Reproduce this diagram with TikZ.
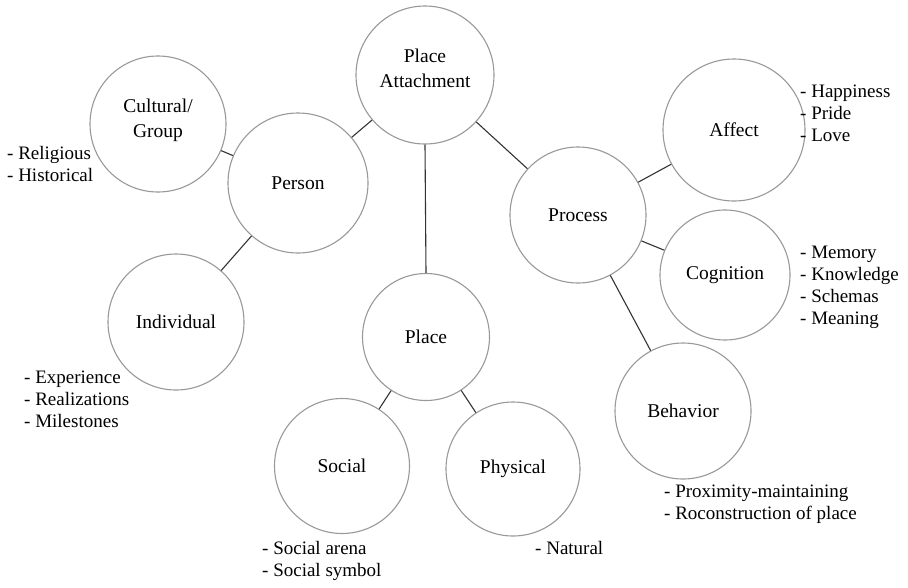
\documentclass[tikz,border=0pt]{standalone}
\usepackage{fontspec}
\setmainfont{Liberation Serif}
\newfontfamily\tnr{Liberation Serif}
\begin{document}
\begin{tikzpicture}[x=1pt,y=-1pt,
  bub/.style={circle,draw=black!40,line width=1.1pt,minimum size=#1,inner sep=0pt,align=center,font=\tnr\fontsize{19.5}{25}\selectfont},
  txt/.style={inner sep=0pt,align=center,font=\tnr\fontsize{19.5}{25}\selectfont},
  lnk/.style={draw=black!80,line width=1.1pt},
  lst/.style={anchor=north west,align=left,inner sep=0pt,font=\tnr\fontsize{19}{22}\selectfont}]
\useasboundingbox (0,0) rectangle (908,587);
\fill[white] (0,0) rectangle (908,587);
\node[bub=138pt] (pa) at (425,75) {};
\node[txt] (pat) at ([yshift=7pt]pa.center) {Place\\Attachment};
\node[bub=136pt] (cg) at (158,124) {};
\node[txt] (cgt) at ([yshift=4pt]cg.center) {Cultural/\\Group};
\node[bub=140pt] (pe) at (298,183) {Person};
\node[bub=136pt] (in) at (176,322) {Individual};
\node[bub=127pt] (pl) at (426,337) {Place};
\node[bub=135pt] (so) at (342,466) {Social};
\node[bub=134pt] (ph) at (513,469) {Physical};
\node[bub=136pt] (pr) at (578,215) {Process};
\node[bub=142pt] (af) at (734,130) {Affect};
\node[bub=130pt] (co) at (725,275) {Cognition};
\node[bub=136pt] (be) at (683,411) {Behavior};
\draw[lnk] (pa) -- (pe);
\draw[lnk] (pa.south) -- (pl.north);
\draw[lnk] (pa) -- (pr);
\draw[lnk] (cg) -- (pe);
\draw[lnk] (pe) -- (in);
\draw[lnk] (pl) -- (so);
\draw[lnk] (pl) -- (ph);
\draw[lnk] (pr) -- (af);
\draw[lnk] (pr) -- (co);
\draw[lnk] (pr) -- (be);
\node[lst] (l1) at (7,146) {- Religious\\- Historical};
\node[lst] (l2) at (800,85) {- Happiness\\- Pride\\- Love};
\node[lst] (l3) at (800,246) {- Memory\\- Knowledge\\- Schemas\\- Meaning};
\node[lst] (l4) at (24,371) {- Experience\\- Realizations\\- Milestones};
\node[lst] (l5) at (664,485) {- Proximity-maintaining\\- Roconstruction of place};
\node[lst] (l6) at (262,541) {- Social arena\\- Social symbol};
\node[lst] (l7) at (535,541) {- Natural};
\end{tikzpicture}
\end{document}
